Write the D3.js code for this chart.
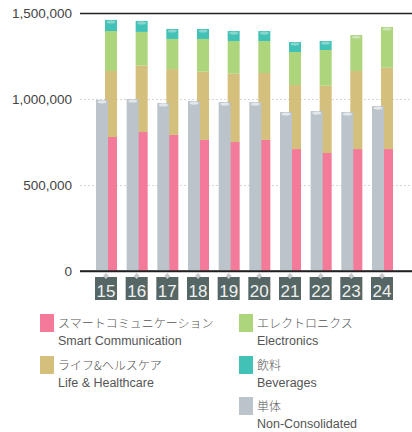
<!DOCTYPE html>
<html>
<head>
<meta charset="utf-8">
<script src="https://cdn.jsdelivr.net/npm/d3@7"></script>
<style>
  body { margin: 0; background: #fff; }
  svg { display: block; }
</style>
</head>
<body>
<svg id="chart" width="412" height="432"></svg>
<script>
"use strict";

// Fiscal years (last two digits)
const years = ["15", "16", "17", "18", "19", "20", "21", "22", "23", "24"];

// Stacked series, bottom to top
const smartCommunication = [779000, 808000, 791000, 762000, 750000, 762000, 709000, 686000, 709000, 709000];
const lifeHealthcare = [384000, 386000, 383000, 397000, 397000, 389000, 372000, 391000, 454000, 473000];
const electronics = [232000, 196000, 175000, 190000, 190000, 186000, 192000, 208000, 209000, 237000];
const beverages = [65000, 64000, 58000, 58000, 58000, 58000, 58000, 52000, 0, 0];

// Separate bar
const nonConsolidated = [995000, 1000000, 977000, 988000, 982000, 982000, 924000, 930000, 924000, 959000];

const yTicks = [0, 500000, 1000000, 1500000];

const SERIES = [
    {key: "smart", values: smartCommunication, color: "#f37a98", cap: "#f8a9bc", jp: "スマートコミュニケーション", en: "Smart Communication"},
    {key: "life", values: lifeHealthcare, color: "#d4bf7c", cap: "#e4d6a8", jp: "ライフ&ヘルスケア", en: "Life & Healthcare"},
    {key: "elec", values: electronics, color: "#acd57c", cap: "#c9e4b7", jp: "エレクトロニクス", en: "Electronics"},
    {key: "bev", values: beverages, color: "#42c2b7", cap: "#86d6cd", jp: "飲料", en: "Beverages"}
];
const GREY = {color: "#bac4ca", cap: "#e3e7ea", jp: "単体", en: "Non-Consolidated"};

const BAR_WIDTH = 12;
const BAR_OFFSET = 9;

const svg = d3.select("#chart");

const x = d3.scaleBand()
    .domain(years)
    .range([96, 393])
    .paddingInner(0.315)
    .paddingOuter(0);

const y = d3.scaleLinear()
    .domain([0, 1500000])
    .range([271, 13]);

// Y axis with grid lines
const yAxis = svg.append("g")
    .attr("transform", "translate(80,0)")
    .call(d3.axisLeft(y)
        .tickValues(yTicks)
        .tickFormat(d3.format(","))
        .tickSizeInner(-332)
        .tickSizeOuter(0)
        .tickPadding(8));
yAxis.select(".domain").remove();
yAxis.selectAll(".tick text")
    .attr("fill", "#444")
    .style("font-family", "'Liberation Sans', Arial, sans-serif")
    .style("font-size", "13.5px");
yAxis.selectAll(".tick line")
    .attr("stroke", d => (d === 0 || d === 1500000) ? "#222" : "#d6d6d6")
    .attr("stroke-width", d => (d === 0 || d === 1500000) ? 1.5 : 1.2)
    .attr("stroke-dasharray", d => (d === 0 || d === 1500000) ? null : "2,2");

// Stacked data
const rows = years.map((yr, i) => {
    let row = {year: yr};
    SERIES.forEach(s => row[s.key] = s.values[i]);
    return row;
});
const stacked = d3.stack().keys(SERIES.map(s => s.key))(rows);

const bars = svg.append("g");

stacked.forEach((layer, li) => {
    bars.append("g")
        .selectAll("rect")
        .data(layer)
        .join("rect")
        .attr("x", d => x(d.data.year) + BAR_OFFSET)
        .attr("y", d => y(d[1]))
        .attr("width", BAR_WIDTH)
        .attr("height", d => y(d[0]) - y(d[1]))
        .attr("fill", SERIES[li].color);
});

// Highlight cap on top of each stacked bar
const tops = years.map((yr, i) => {
    let top = null;
    stacked.forEach((layer, li) => {
        if (layer[i][1] - layer[i][0] > 0) {
            top = {year: yr, value: layer[i][1], cap: SERIES[li].cap};
        }
    });
    return top;
});
bars.append("g")
    .selectAll("ellipse")
    .data(tops)
    .join("ellipse")
    .attr("cx", d => x(d.year) + BAR_OFFSET + BAR_WIDTH / 2)
    .attr("cy", d => y(d.value) + 2)
    .attr("rx", BAR_WIDTH / 2 - 1.5)
    .attr("ry", 1.6)
    .attr("fill", d => d.cap);

// Non-consolidated bars, drawn over the stacks
const greyData = years.map((yr, i) => ({year: yr, value: nonConsolidated[i]}));
bars.append("g")
    .selectAll("rect")
    .data(greyData)
    .join("rect")
    .attr("x", d => x(d.year))
    .attr("y", d => y(d.value))
    .attr("width", BAR_WIDTH)
    .attr("height", d => y(0) - y(d.value))
    .attr("fill", GREY.color);
bars.append("g")
    .selectAll("ellipse")
    .data(greyData)
    .join("ellipse")
    .attr("cx", d => x(d.year) + BAR_WIDTH / 2)
    .attr("cy", d => y(d.value) + 2)
    .attr("rx", BAR_WIDTH / 2 - 1.5)
    .attr("ry", 1.6)
    .attr("fill", GREY.cap);

// Redraw baseline on top of bars
svg.append("line")
    .attr("x1", 80).attr("x2", 412)
    .attr("y1", y(0)).attr("y2", y(0))
    .attr("stroke", "#222")
    .attr("stroke-width", 1.5);

// Year labels in dark boxes
const labels = svg.append("g")
    .selectAll("g")
    .data(years)
    .join("g")
    .attr("transform", d => "translate(" + (x(d) - 1) + ",277)");
labels.append("rect")
    .attr("width", x.bandwidth() + 1)
    .attr("height", 23)
    .attr("fill", "#566664");
labels.append("path")
    .attr("d", d3.symbol(d3.symbolDiamond2, 22)())
    .attr("transform", "translate(" + ((x.bandwidth() + 1) / 2) + ",-1)")
    .attr("fill", "#c9c9c9");
labels.append("text")
    .attr("x", (x.bandwidth() + 1) / 2)
    .attr("y", 20)
    .attr("text-anchor", "middle")
    .attr("fill", "#eef1f1")
    .style("font-family", "'Liberation Sans', Arial, sans-serif")
    .style("font-size", "17px")
    .text(d => d);

// Legend
const legendItems = [
    {s: SERIES[0], x: 40, y: 314},
    {s: SERIES[1], x: 40, y: 356},
    {s: SERIES[2], x: 239, y: 314},
    {s: SERIES[3], x: 239, y: 356},
    {s: GREY, x: 239, y: 397}
];
const legend = svg.append("g")
    .selectAll("g")
    .data(legendItems)
    .join("g")
    .attr("transform", d => "translate(" + d.x + "," + d.y + ")");
legend.append("rect")
    .attr("width", 14)
    .attr("height", 18)
    .attr("fill", d => d.s.color);
legend.append("text")
    .attr("x", 18)
    .attr("y", 14)
    .attr("fill", "#555")
    .style("font-family", "'Noto Sans CJK JP', sans-serif")
    .style("font-size", "12px")
    .style("font-weight", 300)
    .text(d => d.s.jp);
legend.append("text")
    .attr("x", 18)
    .attr("y", 31)
    .attr("fill", "#555")
    .style("font-family", "'Liberation Sans', Arial, sans-serif")
    .style("font-size", "12.5px")
    .text(d => d.s.en);
</script>
</body>
</html>
